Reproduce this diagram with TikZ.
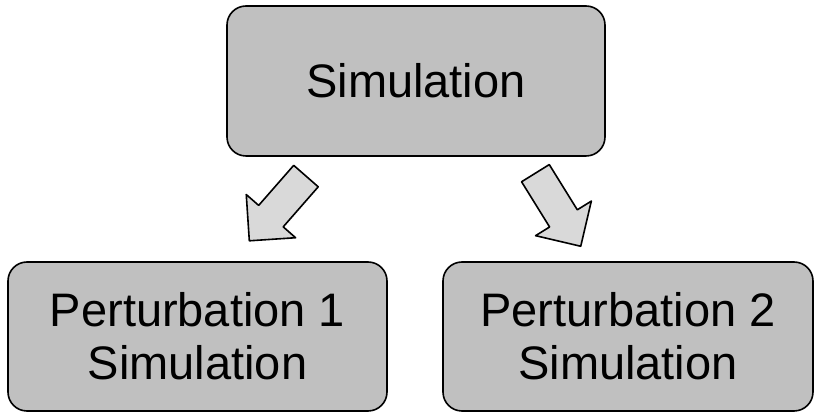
\documentclass[tikz,border=0pt]{standalone}
\usepackage{fontspec}
\setmainfont{Liberation Sans}
\usepackage{xcolor}
\usetikzlibrary{shapes.arrows}
\definecolor{boxgray}{HTML}{C0C0C0}
\definecolor{arrowgray}{HTML}{D9D9D9}
\tikzset{
    every picture/.style={line join=round},
    simbox/.style={draw=black,fill=boxgray,line width=1.6pt,rounded corners=19pt,
      minimum height=149pt,inner sep=0pt,align=center,
      font=\fontsize{47}{53}\selectfont},
    blockarrow/.style={single arrow,draw=black,fill=arrowgray,line width=1.6pt,
      minimum width=64pt,minimum height=86pt,single arrow head extend=16.5pt,
      inner xsep=0pt,inner ysep=15.5pt,anchor=tail}
}
\begin{document}
\begin{tikzpicture}[x=1pt,y=1pt]
    \useasboundingbox (0,0) rectangle (815,412);
    \node[simbox,minimum width=378pt,minimum height=150pt] (sim) at (416,331) {Simulation};
    \node[simbox,minimum width=379pt] (pert1) at (197.5,75.5) {Perturbation 1\\Simulation};
    \node[simbox,minimum width=370pt] (pert2) at (628,75.5) {Perturbation 2\\Simulation};

    % block arrows from the top box down to the two perturbations
    \node[blockarrow,rotate=228.8] (toleft) at (306.5,236.5) {};
    \node[blockarrow,rotate=-58.2] (toright) at (535,239.5) {};
\end{tikzpicture}
\end{document}
